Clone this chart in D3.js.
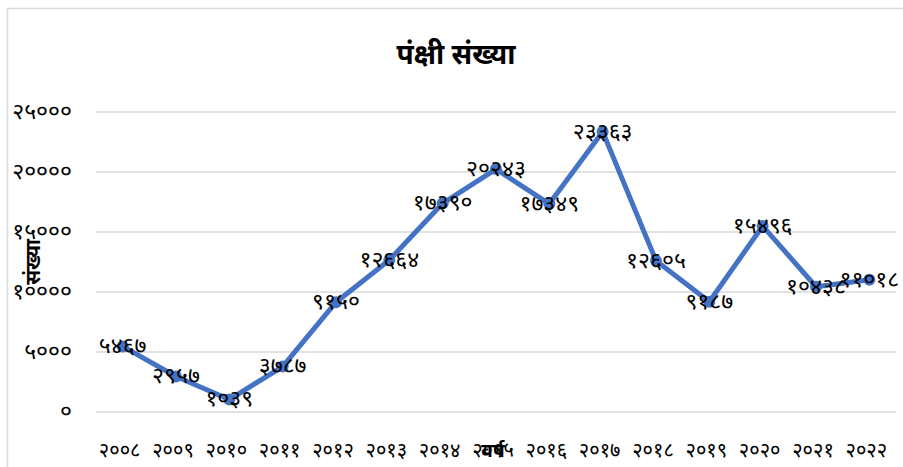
<!DOCTYPE html>
<html>
<head>
<meta charset="utf-8">
<script src="https://cdn.jsdelivr.net/npm/d3@7"></script>
<style>
  body { margin: 0; background: #fff; }
  text { font-family: "Noto Sans Devanagari", "Mangal", "Noto Sans", sans-serif; }
</style>
</head>
<body>
<div id="chart"></div>
<script>
// --- Data ---
var years = ["२००८", "२००९", "२०१०", "२०११", "२०१२", "२०१३", "२०१४", "२०१५",
    "२०१६", "२०१७", "२०१८", "२०१९", "२०२०", "२०२१", "२०२२"];
var birds = [5467, 2957, 1039, 3787, 9150, 12664, 17390, 20243, 17349, 23363,
    12605, 9187, 15496, 10438, 11018];
var yTicks = [0, 5000, 10000, 15000, 20000, 25000];

// --- Layout ---
const w = 903;
const h = 467;
const plotLeft = 96, plotRight = 896, plotTop = 112, plotBottom = 412;

var devDigits = "०१२३४५६७८९";
function toDev(n) {
    return String(n).replace(/[0-9]/g, function (c) { return devDigits[+c]; });
}

var svg = d3.select("#chart").append("svg")
    .attr("width", w)
    .attr("height", h);

// chart border
svg.append("rect")
    .attr("x", 7.5).attr("y", 8.5)
    .attr("width", w).attr("height", h)
    .attr("fill", "none")
    .attr("stroke", "#d9d9d9")
    .attr("stroke-width", 1.5);

var x = d3.scaleBand()
    .domain(years)
    .range([plotLeft, plotRight]);

var y = d3.scaleLinear()
    .domain([0, 25000])
    .range([plotBottom, plotTop]);

// gridlines
svg.append("g")
    .selectAll("line")
    .data(yTicks)
    .enter()
    .append("line")
    .attr("x1", plotLeft).attr("x2", plotRight)
    .attr("y1", function (d) { return y(d); })
    .attr("y2", function (d) { return y(d); })
    .attr("stroke", "#d9d9d9")
    .attr("stroke-width", 1.5);

// y tick labels
svg.append("g")
    .selectAll("text")
    .data(yTicks)
    .enter()
    .append("text")
    .attr("x", 72)
    .attr("y", function (d) { return y(d); })
    .attr("dy", "0.3em")
    .attr("text-anchor", "end")
    .attr("font-size", "23px")
    .attr("fill", "#000")
    .text(toDev);

// x tick labels
svg.append("g")
    .selectAll("text")
    .data(years)
    .enter()
    .append("text")
    .attr("x", function (d) { return x(d) + x.bandwidth() / 2 - 3; })
    .attr("y", 451)
    .attr("dy", "0.3em")
    .attr("text-anchor", "middle")
    .attr("font-size", "20px")
    .attr("fill", "#000")
    .text(function (d) { return d; });

// line
var line = d3.line()
    .x(function (d, i) { return x(years[i]) + x.bandwidth() / 2; })
    .y(function (d) { return y(d); });

svg.append("path")
    .datum(birds)
    .attr("d", line)
    .attr("fill", "none")
    .attr("stroke", "#4472c4")
    .attr("stroke-width", 5)
    .attr("stroke-linejoin", "round");

// markers
svg.append("g")
    .selectAll("circle")
    .data(birds)
    .enter()
    .append("circle")
    .attr("cx", function (d, i) { return x(years[i]) + x.bandwidth() / 2; })
    .attr("cy", function (d) { return y(d); })
    .attr("r", 6)
    .attr("fill", "#4472c4");

// data labels, centred on the points
svg.append("g")
    .selectAll("text")
    .data(birds)
    .enter()
    .append("text")
    .attr("x", function (d, i) { return x(years[i]) + x.bandwidth() / 2; })
    .attr("y", function (d) { return y(d); })
    .attr("dy", "0.3em")
    .attr("text-anchor", "middle")
    .attr("font-size", "23px")
    .attr("fill", "#000")
    .text(toDev);

// title
svg.append("text")
    .attr("x", 456)
    .attr("y", 54)
    .attr("dy", "0.35em")
    .attr("text-anchor", "middle")
    .attr("font-size", "28px")
    .attr("font-weight", "bold")
    .text("पंक्षी संख्या");

// axis titles
svg.append("text")
    .attr("transform", "translate(33,262) rotate(-90)")
    .attr("dy", "0.35em")
    .attr("text-anchor", "middle")
    .attr("font-size", "20px")
    .attr("font-weight", "bold")
    .text("संख्या");

svg.append("text")
    .attr("x", 493)
    .attr("y", 450)
    .attr("dy", "0.35em")
    .attr("text-anchor", "middle")
    .attr("font-size", "19px")
    .attr("font-weight", "bold")
    .text("वर्ष");
</script>
</body>
</html>
